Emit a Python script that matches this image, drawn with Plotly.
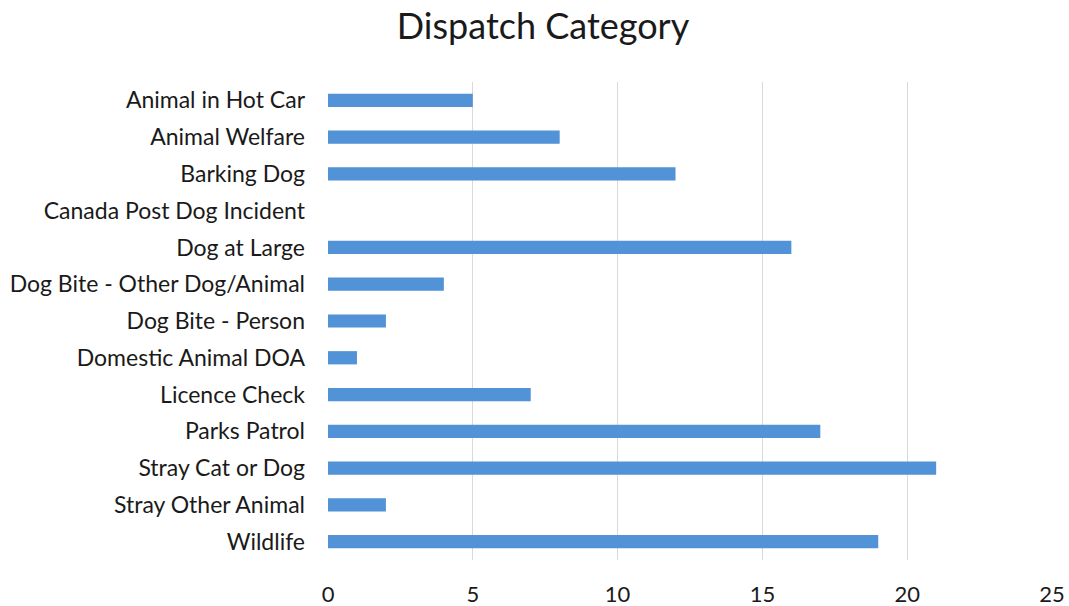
import plotly.graph_objects as go

categories = [
    "Animal in Hot Car", "Animal Welfare", "Barking Dog", "Canada Post Dog Incident",
    "Dog at Large", "Dog Bite - Other Dog/Animal", "Dog Bite - Person",
    "Domestic Animal DOA", "Licence Check", "Parks Patrol", "Stray Cat or Dog",
    "Stray Other Animal", "Wildlife",
]
counts = [5, 8, 12, 0, 16, 4, 2, 1, 7, 17, 21, 2, 19]
x_ticks = [0, 5, 10, 15, 20, 25]
grid_ticks = [0, 5, 10, 15, 20]

FONT = "Lato"

fig = go.Figure()
fig.add_trace(go.Bar(
    y=categories, x=counts, orientation="h",
    marker=dict(color="#5292d6", line=dict(width=0)),
    width=0.36, showlegend=False,
))
fig.add_trace(go.Scatter(x=[None], y=[None], xaxis="x2", showlegend=False, hoverinfo="skip"))

fig.update_layout(
    width=1069, height=606,
    margin=dict(l=328, r=17, t=82, b=46, autoexpand=False),
    paper_bgcolor="white", plot_bgcolor="white",
    font=dict(family=FONT, color="#1a1a1a", size=23),
    title=dict(text="Dispatch Category", x=0.508, xanchor="center", y=1 - 26 / 606, yanchor="middle",
               font=dict(family=FONT, size=36, color="#1a1a1a")),
    xaxis=dict(range=[0, 25], tickvals=x_ticks, showgrid=False, zeroline=False,
               showline=False, ticks="", ticklabelstandoff=19, automargin=False,
               tickfont=dict(size=22)),
    xaxis2=dict(range=[0, 25], tickvals=grid_ticks, overlaying="x", side="bottom",
                showgrid=True, gridcolor="#d9d9d9", gridwidth=1, showticklabels=False,
                zeroline=False, showline=False, ticks="", automargin=False),
    yaxis=dict(categoryorder="array", categoryarray=categories, autorange="reversed",
               showgrid=False, zeroline=False, showline=False, ticks="", automargin=False,
               ticklabelstandoff=22, tickfont=dict(size=23)),
)

fig.write_html(
    "out.html",
    config={"displayModeBar": False},
    post_script="document.body.style.margin='0';document.body.style.overflow='hidden';",
)
